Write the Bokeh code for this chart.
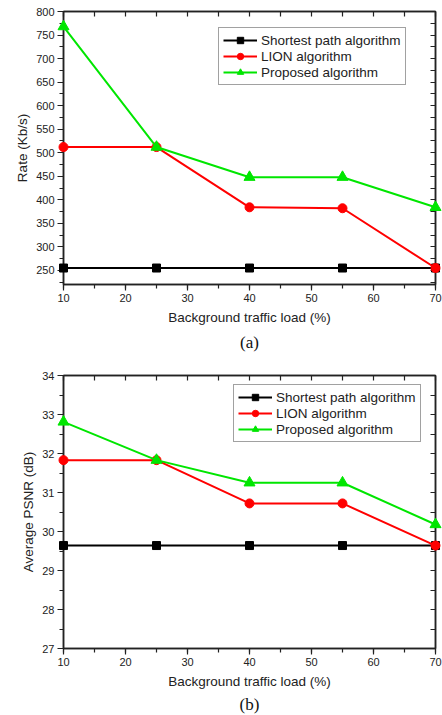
from bokeh.plotting import figure
from bokeh.layouts import column
from bokeh.models import (SingleIntervalTicker, LinearAxis, Legend, LegendItem,
                          Title, Range1d, CustomLabelingPolicy)
from bokeh.embed import file_html
from bokeh.resources import INLINE

# ---------------- data ----------------
load = [10, 25, 40, 55, 70]
series_names = ["Shortest path algorithm", "LION algorithm", "Proposed algorithm"]

rate_shortest = [255, 255, 255, 255, 255]
rate_lion = [512, 512, 384, 382, 255]
rate_proposed = [768, 512, 448, 448, 384]

psnr_shortest = [29.64, 29.64, 29.64, 29.64, 29.64]
psnr_lion = [31.83, 31.83, 30.72, 30.72, 29.64]
psnr_proposed = [32.81, 31.83, 31.25, 31.25, 30.18]

x_label = "Background traffic load (%)"
rate_label = "Rate (Kb/s)"
psnr_label = "Average PSNR (dB)"

colors = ["#000000", "#ff0000", "#00e600"]
markers = ["square", "circle", "triangle"]
sizes = [8, 9, 11]

FONT = "Liberation Sans"

NO_LABELS = """
try { for (const i of Array.from(indices)) { indices.unset(i) } } catch (e) {}
return indices
"""


def frame_axis(interval):
    return LinearAxis(ticker=SingleIntervalTicker(interval=interval, num_minor_ticks=0),
                      major_label_policy=CustomLabelingPolicy(code=NO_LABELS),
                      major_label_text_font_size="10px", major_tick_in=5, major_tick_out=0,
                      minor_tick_line_color=None, axis_line_width=1.5,
                      axis_line_color="#222222", major_tick_line_color="#222222",
                      major_tick_line_width=1.2, major_label_standoff=0)


def make_panel(ys, y_start, y_end, y_major, y_label, tag, legend_xy, top, bottom, tag_standoff):
    p = figure(frame_width=372, frame_height=273,
               min_border_left=63, min_border_right=7,
               min_border_top=top, min_border_bottom=bottom,
               x_range=Range1d(10, 70), y_range=Range1d(y_start, y_end),
               output_backend="svg", toolbar_location=None,
               background_fill_color="white", border_fill_color="white")
    p.grid.visible = False
    p.outline_line_color = "#222222"
    p.outline_line_width = 1.5

    p.xaxis.ticker = SingleIntervalTicker(interval=10, num_minor_ticks=2)
    p.yaxis.ticker = SingleIntervalTicker(interval=y_major, num_minor_ticks=2)
    for ax in (p.xaxis[0], p.yaxis[0]):
        ax.axis_line_width = 1.5
        ax.axis_line_color = "#222222"
        ax.major_tick_line_color = "#222222"
        ax.minor_tick_line_color = "#222222"
        ax.major_tick_line_width = 1.2
        ax.minor_tick_line_width = 1.2
        ax.major_tick_out = 6
        ax.major_tick_in = 0
        ax.minor_tick_out = 4
        ax.minor_tick_in = 0
        ax.major_label_text_font = FONT
        ax.major_label_text_font_size = "11px"
        ax.major_label_text_color = "#222222"
        ax.axis_label_text_font = FONT
        ax.axis_label_text_font_size = "13.5px"
        ax.axis_label_text_font_style = "normal"
        ax.axis_label_text_color = "#222222"
    p.xaxis.axis_label = x_label
    p.yaxis.axis_label = y_label
    p.xaxis.major_label_standoff = 3
    p.xaxis.axis_label_standoff = 5
    p.yaxis.major_label_standoff = 3
    p.yaxis.axis_label_standoff = 3

    p.add_layout(frame_axis(5), "above")
    p.add_layout(frame_axis(y_major / 2), "right")

    items = []
    for name, y, c, m, s in zip(series_names, ys, colors, markers, sizes):
        ln = p.line(load, y, line_color=c, line_width=2, level="overlay")
        sc = p.scatter(load, y, marker=m, size=s, fill_color=c, line_color=c, level="overlay")
        items.append(LegendItem(label=name, renderers=[ln, sc]))

    legend = Legend(items=items, location=legend_xy, margin=0, padding=4, spacing=0,
                    glyph_width=34, glyph_height=16, label_height=16, label_standoff=4,
                    label_text_font=FONT, label_text_font_size="13.5px",
                    label_text_color="#222222",
                    border_line_color="#444444", border_line_width=1,
                    background_fill_alpha=1.0)
    p.add_layout(legend)

    p.add_layout(Title(text=tag, align="center", text_font="Liberation Serif",
                       text_font_size="17px", text_font_style="normal",
                       text_color="#111111", standoff=tag_standoff), "below")
    return p


p1 = make_panel([rate_shortest, rate_lion, rate_proposed], 220, 800, 50,
                rate_label, "(a)", (155, 199), 11, 76, 6)
p2 = make_panel([psnr_shortest, psnr_lion, psnr_proposed], 27, 34, 1,
                psnr_label, "(b)", (170, 206), 15, 67, 2)

layout = column(p1, p2, spacing=0)
open("out.html", "w").write(file_html(layout, INLINE))
